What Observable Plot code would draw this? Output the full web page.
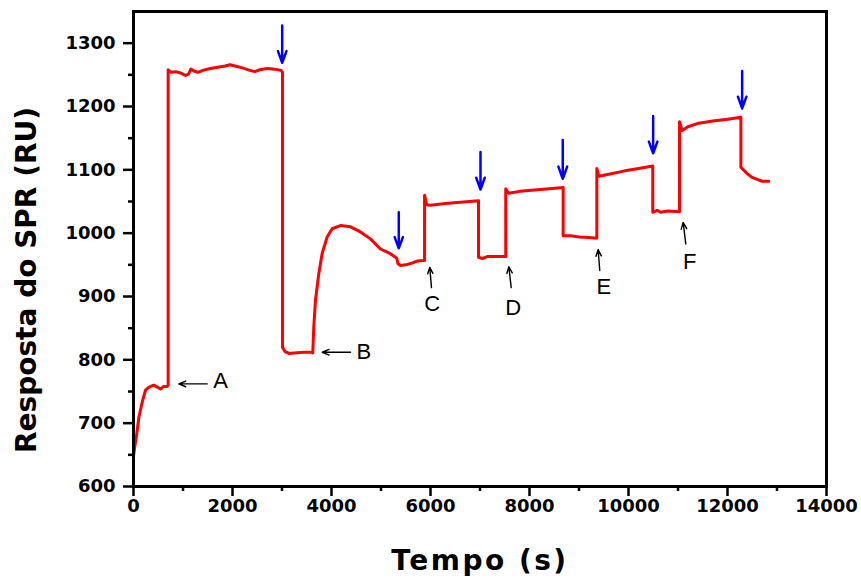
<!DOCTYPE html>
<html><head><meta charset="utf-8">
<script src="https://cdn.jsdelivr.net/npm/d3@7"></script>
<script src="https://cdn.jsdelivr.net/npm/@observablehq/plot@0.6"></script>
<style>body{margin:0;background:#fff} svg{display:block}</style>
</head><body><div id="chart"></div>
<script>
// SPR sensorgram (time in s, response in RU)
const time = [
  0, 30, 60, 108, 175, 242, 300, 343, 410, 480, 545, 610, 680, 700,
  700, 760, 850, 950, 1050, 1110, 1160, 1220, 1300, 1400, 1550, 1700, 1850, 1950, 2050, 2200, 2350, 2450, 2550, 2700, 2850, 2980, 3010,
  3010, 3060, 3150, 3300, 3450, 3600, 3622,
  3642, 3676, 3743, 3811, 3912, 4013, 4181, 4383, 4585, 4787, 4989, 5157, 5292, 5320, 5340, 5393, 5500, 5595, 5730, 5880,
  5880, 5920, 6000, 6300, 6600, 6970,
  6970, 7050, 7144, 7300, 7520,
  7520, 7580, 7800, 8100, 8400, 8680,
  8680, 8827, 9000, 9200, 9360,
  9360, 9400, 9600, 9900, 10200, 10490,
  10490, 10580, 10650, 10800, 11030,
  11030, 11084, 11200, 11387, 11700, 12000, 12270,
  12270, 12396, 12500, 12598, 12700, 12834
];
const response = [
  648, 665, 680, 709, 733, 752, 756, 758, 760, 757, 754, 758, 758, 760,
  1258, 1254, 1255, 1253, 1249, 1251, 1259, 1256, 1254, 1257, 1260, 1262, 1264, 1266, 1264, 1261, 1257, 1255, 1258, 1260, 1259, 1257, 1254,
  820, 813, 810, 811, 812, 812, 811,
  852, 894, 936, 968, 994, 1007, 1012, 1010, 1002, 991, 975, 969, 962, 960, 952, 949, 950, 952, 956, 957,
  1060, 1045, 1044, 1047, 1049, 1051,
  962, 960, 963, 963, 963,
  1070, 1063, 1066, 1068, 1070, 1072,
  996, 996, 994, 993, 992,
  1102, 1090, 1093, 1098, 1102, 1106,
  1033, 1036, 1033, 1035, 1034,
  1176, 1162, 1168, 1173, 1177, 1180, 1183,
  1104, 1094, 1088, 1085, 1082, 1082
];

// injection markers (blue arrows)
const injX   = [3004, 5359, 7010, 8672, 10498, 12296];
const injTop = [1328, 1033, 1128, 1147, 1185, 1256];
const injTip = [1269, 976, 1069, 1086, 1126, 1197];

// labelled black arrows
const markLabel = ["A", "B", "C", "D", "E", "F"];
const markTailX = [1489, 4385, 6020, 7630, 9420, 11157];
const markTailY = [762, 812, 914, 914, 941, 983];
const markTipX  = [915, 3812, 5985, 7583, 9386, 11104];
const markTipY  = [762, 812, 946, 947, 974, 1017];
const markTextX = [1757, 4653, 6033, 7669, 9500, 11238];
const markTextY = [767, 812, 889, 882, 915, 954];

const xTicks = [0, 2000, 4000, 6000, 8000, 10000, 12000, 14000];
const xMinor = [1000, 3000, 5000, 7000, 9000, 11000, 13000];
const yTicks = [600, 700, 800, 900, 1000, 1100, 1200, 1300];
const yMinor = [650, 750, 850, 950, 1050, 1150, 1250];
const xTitle = "Tempo (s)";
const yTitle = "Resposta do SPR (RU)";

const series = time.map((t, i) => ({t, r: response[i]}));
const inj = injX.map((x, i) => ({x, top: injTop[i], tip: injTip[i]}));
const marks = markLabel.map((l, i) => ({
  l, x1: markTailX[i], y1: markTailY[i], x2: markTipX[i], y2: markTipY[i],
  tx: markTextX[i], ty: markTextY[i]
}));

const fmt = d3.format("d");
const chart = Plot.plot({
  width: 861, height: 581,
  marginLeft: 133, marginRight: 35, marginTop: 11, marginBottom: 95,
  x: {domain: [0, 14000]},
  y: {domain: [600, 1350]},
  style: {fontFamily: "DejaVu Sans, sans-serif", background: "white", color: "black"},
  marks: [
    Plot.axisX({ticks: xMinor, tickSize: 5, tickFormat: () => "", strokeWidth: 2.5, label: null}),
    Plot.axisY({ticks: yMinor, tickSize: 5, tickFormat: () => "", strokeWidth: 2.5, label: null}),
    Plot.axisX({ticks: xTicks, tickSize: 10, tickPadding: 3, tickFormat: fmt, strokeWidth: 2.5,
      fontSize: 18, fontWeight: "bold", label: null}),
    Plot.axisY({ticks: yTicks, tickSize: 10, tickPadding: 8, tickFormat: fmt, strokeWidth: 2.5,
      fontSize: 18, fontWeight: "bold", label: null}),
    Plot.line(series, {x: "t", y: "r", stroke: "#ff0000", strokeWidth: 3, strokeLinejoin: "round"}),
    Plot.arrow(inj, {x: "x", y1: "top", y2: "tip", stroke: "#0000ff", strokeWidth: 2.5,
      headLength: 10, headAngle: 40}),
    Plot.arrow(marks, {x1: "x1", y1: "y1", x2: "x2", y2: "y2", stroke: "black", strokeWidth: 1.4,
      headLength: 8, headAngle: 45}),
    Plot.text(marks, {x: "tx", y: "ty", text: "l", fontSize: 22, fontFamily: "Liberation Sans, Arial, sans-serif",
      textAnchor: "middle", lineAnchor: "middle", fill: "black"}),
    Plot.text([xTitle], {frameAnchor: "bottom", dy: 75, text: d => d, fontSize: 28, fontWeight: "bold",
      lineAnchor: "middle", textAnchor: "middle", fill: "black"}),
    Plot.text([yTitle], {frameAnchor: "left", dx: -106, dy: 31, rotate: -90, text: d => d, fontSize: 28,
      fontWeight: "bold", lineAnchor: "middle", textAnchor: "middle", fill: "black"}),
    Plot.frame({stroke: "black", strokeWidth: 3})
  ]
});
chart.querySelectorAll("text").forEach(t => {
  if (t.textContent === xTitle) t.setAttribute("letter-spacing", "2.5");
});
document.getElementById("chart").appendChild(chart);
</script>
</body></html>
